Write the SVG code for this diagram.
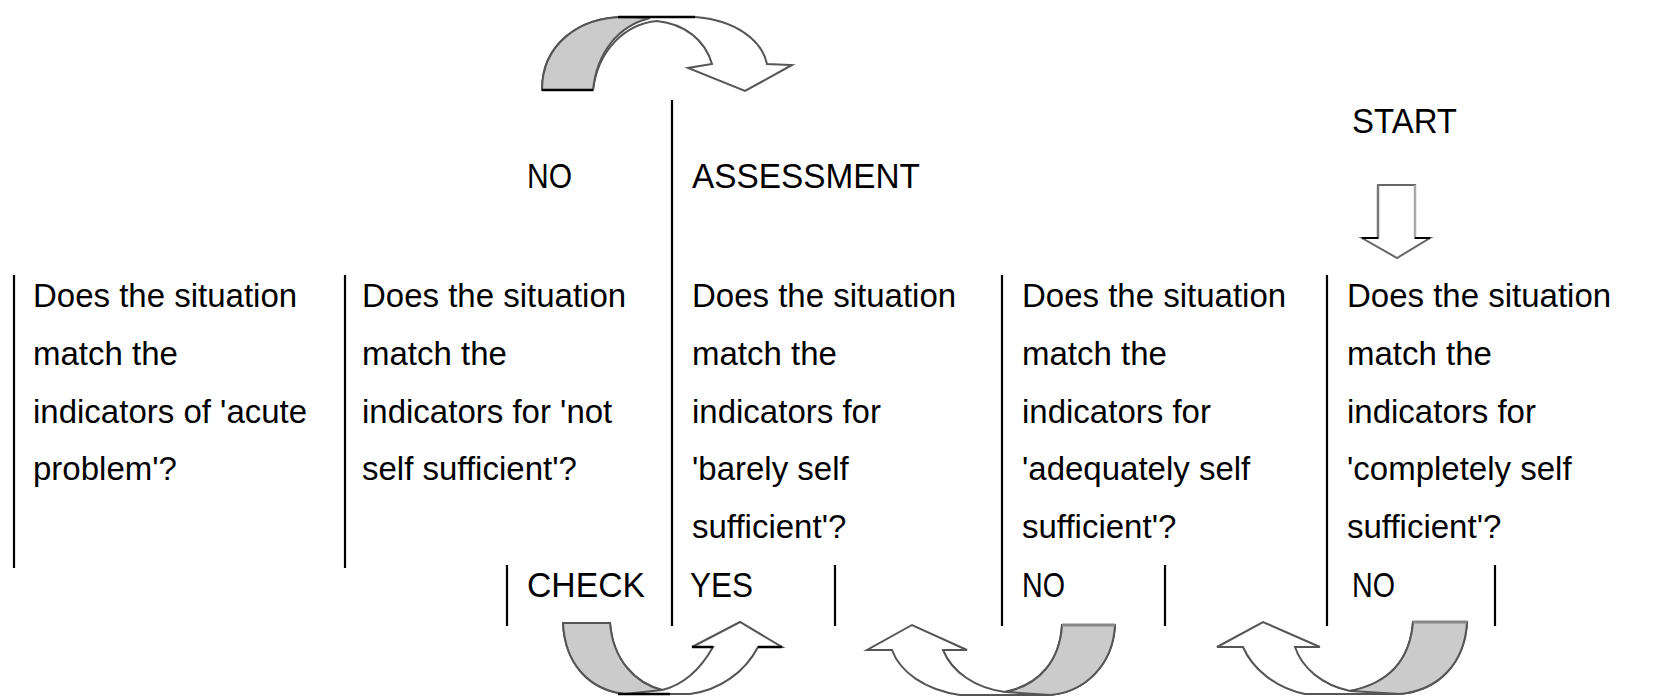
<svg xmlns="http://www.w3.org/2000/svg" width="1655" height="697" viewBox="0 0 1655 697">
<style>
.q{font-family:"Liberation Sans",Arial,sans-serif;font-size:33px;fill:#000}
.lb{font-family:"Liberation Sans",Arial,sans-serif;font-size:35px;fill:#000}
.rule{stroke:#000;stroke-width:2.2;fill:none}
.aw{fill:#fff;stroke:#555;stroke-width:2}
.ag{fill:#cbcbcb;stroke:#555;stroke-width:2}
.edge{stroke:#000;stroke-width:2.5;fill:none}
</style>
<rect width="1655" height="697" fill="#fff"/>
<g id="rules">
<line class="rule" x1="14" y1="275" x2="14" y2="568"/>
<line class="rule" x1="345" y1="275" x2="345" y2="568"/>
<line class="rule" x1="672" y1="100" x2="672" y2="626"/>
<line class="rule" x1="1002" y1="275" x2="1002" y2="626"/>
<line class="rule" x1="1327" y1="275" x2="1327" y2="626"/>
<line class="rule" x1="507" y1="565" x2="507" y2="626"/>
<line class="rule" x1="835" y1="565" x2="835" y2="626"/>
<line class="rule" x1="1165" y1="565" x2="1165" y2="626"/>
<line class="rule" x1="1495" y1="565" x2="1495" y2="626"/>
</g>
<g id="q-acute">
<text class="q" x="33" y="307">Does the situation</text>
<text class="q" x="33" y="365">match the</text>
<text class="q" x="33" y="423">indicators of 'acute</text>
<text class="q" x="33" y="480">problem'?</text>
</g>
<g id="q-not">
<text class="q" x="362" y="307">Does the situation</text>
<text class="q" x="362" y="365">match the</text>
<text class="q" x="362" y="423">indicators for 'not</text>
<text class="q" x="362" y="480">self sufficient'?</text>
</g>
<g id="q-barely">
<text class="q" x="692" y="307">Does the situation</text>
<text class="q" x="692" y="365">match the</text>
<text class="q" x="692" y="423">indicators for</text>
<text class="q" x="692" y="480">'barely self</text>
<text class="q" x="692" y="538">sufficient'?</text>
</g>
<g id="q-adequately">
<text class="q" x="1022" y="307">Does the situation</text>
<text class="q" x="1022" y="365">match the</text>
<text class="q" x="1022" y="423">indicators for</text>
<text class="q" x="1022" y="480">'adequately self</text>
<text class="q" x="1022" y="538">sufficient'?</text>
</g>
<g id="q-completely">
<text class="q" x="1347" y="307">Does the situation</text>
<text class="q" x="1347" y="365">match the</text>
<text class="q" x="1347" y="423">indicators for</text>
<text class="q" x="1347" y="480">'completely self</text>
<text class="q" x="1347" y="538">sufficient'?</text>
</g>
<g id="labels">
<text class="lb" x="527" y="188" textLength="45" lengthAdjust="spacingAndGlyphs">NO</text>
<text class="lb" x="692" y="188" textLength="228" lengthAdjust="spacingAndGlyphs">ASSESSMENT</text>
<text class="lb" x="1352" y="133" textLength="105" lengthAdjust="spacingAndGlyphs">START</text>
<text class="lb" x="527" y="597" textLength="118" lengthAdjust="spacingAndGlyphs">CHECK</text>
<text class="lb" x="690" y="597" textLength="63" lengthAdjust="spacingAndGlyphs">YES</text>
<text class="lb" x="1022" y="597" textLength="43" lengthAdjust="spacingAndGlyphs">NO</text>
<text class="lb" x="1352" y="597" textLength="43" lengthAdjust="spacingAndGlyphs">NO</text>
</g>
<g id="connectors">
<g id="arrow-top">
<path class="aw" d="M542,90 C542,45 578,17 625,17 L695,17 C735,20 762,40 767,64 L792,65 L745,91 L688,68 L712,64 C705,40 685,24 657,21 C625,24 598,50 593,90 Z"/>
<path class="ag" d="M542,90 C542,45 578,17 625,17 L650,18 C618,26 597,52 593,90 Z"/>
<line class="edge" x1="618" y1="17" x2="695" y2="17"/>
<line class="edge" x1="542" y1="90" x2="593" y2="90"/>
</g>
<g id="arrow-start">
<path d="M1378,238 L1378,185 L1415,185 L1415,238 L1430,238 L1397,258 L1362,238 Z" fill="#fff" stroke="#666" stroke-width="2"/>
<line x1="1378" y1="185" x2="1378" y2="238" stroke="#777" stroke-width="2.5"/>
<line x1="1415" y1="185" x2="1415" y2="238" stroke="#aaa" stroke-width="2.5"/>
<line x1="1362" y1="238" x2="1378" y2="238" stroke="#000" stroke-width="2"/>
<line x1="1415" y1="238" x2="1430" y2="238" stroke="#000" stroke-width="2"/>
</g>
<g id="arrow-check-yes">
<path class="aw" d="M563,623 C565,665 590,690 625,694 L690,694 C720,690 745,672 758,647 L782,647 L740,622 L692,647 L713,647 C700,670 683,685 662,690 C635,683 613,660 610,623 Z"/>
<path class="ag" d="M563,623 L610,623 C613,660 635,683 662,690 L625,694 C590,690 565,665 563,623 Z"/>
<line class="edge" x1="618" y1="694" x2="670" y2="694"/>
<line class="edge" x1="692" y1="647" x2="713" y2="647"/>
<line class="edge" x1="758" y1="647" x2="782" y2="647"/>
</g>
<g id="arrow-no-4">
<path class="aw" d="M1115,625 C1113,665 1085,692 1050,695 L960,695 C925,690 900,672 892,650 L867,650 L912,625 L967,650 L943,650 C952,672 975,688 1005,692 C1040,685 1060,660 1062,625 Z"/>
<path class="ag" d="M1062,625 L1115,625 C1113,665 1085,692 1050,695 L1005,692 C1040,685 1060,660 1062,625 Z"/>
<line x1="1062" y1="625" x2="1115" y2="625" stroke="#888" stroke-width="3"/>
</g>
<g id="arrow-no-5">
<path class="aw" d="M1467,622 C1465,662 1440,690 1400,694 L1305,694 C1275,688 1252,668 1243,647 L1217,647 L1263,622 L1320,647 L1295,647 C1302,668 1322,685 1350,691 C1390,683 1410,660 1413,622 Z"/>
<path class="ag" d="M1413,622 L1467,622 C1465,662 1440,690 1400,694 L1350,691 C1390,683 1410,660 1413,622 Z"/>
<line x1="1413" y1="622" x2="1467" y2="622" stroke="#888" stroke-width="3"/>
</g>
</g>
</svg>
